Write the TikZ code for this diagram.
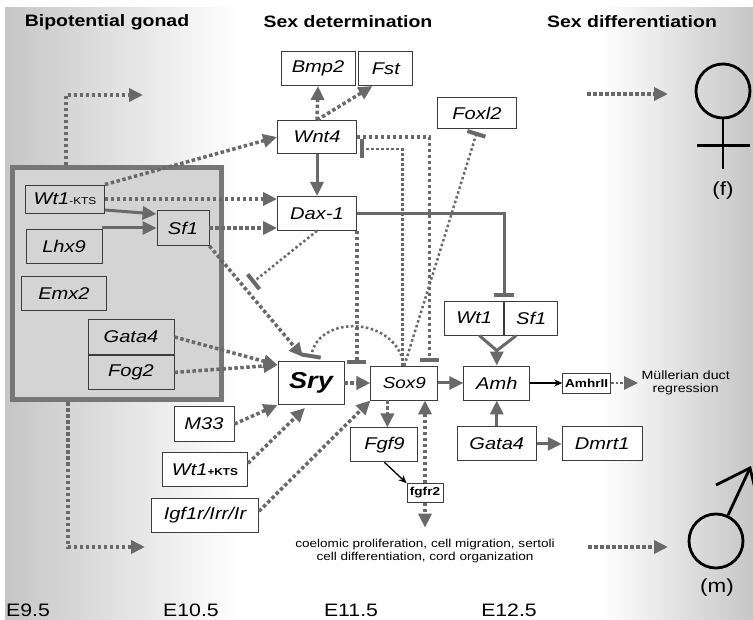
\documentclass[tikz,border=0pt]{standalone}
\usepackage{fontspec}
\setmainfont{Liberation Sans}[FakeStretch=1.18]
\usepackage{tikz}
\usetikzlibrary{arrows.meta, positioning, calc}
\definecolor{linegray}{RGB}{105,105,105}
\definecolor{boxline}{RGB}{60,60,60}
\definecolor{gonadfill}{RGB}{212,212,212}
\definecolor{gonadline}{RGB}{118,118,118}
\definecolor{bggray}{RGB}{198,198,198}
\tikzstyle{gene} = [rectangle, draw=boxline, line width=0.9pt, fill=white, minimum height=34pt, inner sep=2pt, font=\itshape\fontsize{17}{17}\selectfont]
\tikzstyle{ingene} = [gene, fill=gonadfill]
\tikzstyle{small} = [rectangle, draw=boxline, line width=0.8pt, fill=white, inner sep=1.5pt, font=\bfseries\fontsize{11.5}{12}\selectfont]
\tikzstyle{stage} = [font=\bfseries\fontsize{16.5}{18}\selectfont]
\tikzstyle{day} = [font=\fontsize{18}{18}\selectfont]
\tikzstyle{note} = [align=center, font=\fontsize{11.5}{13}\selectfont]
\tikzstyle{act} = [draw=linegray, line width=3.5pt, dash pattern=on 3.5pt off 2.5pt, -{Triangle[length=14pt,width=13pt]}]
\tikzstyle{solidact} = [draw=linegray, line width=3pt, -{Triangle[length=14pt,width=13pt]}]
\tikzstyle{blackact} = [draw=black, line width=1.3pt, -{Stealth[length=8pt,width=7pt]}]
\tikzstyle{inh} = [draw=linegray, line width=2.5pt, dash pattern=on 2.5pt off 2.5pt, -{Bar[width=19pt,line width=4pt]}]
\tikzstyle{thickinh} = [inh, line width=3.5pt, dash pattern=on 3.5pt off 2.5pt]
\tikzstyle{solidinh} = [draw=linegray, line width=3pt, -{Bar[width=20pt,line width=4pt]}]
\tikzstyle{sexsym} = [circle, draw=black, line width=2.8pt, minimum size=54pt, inner sep=0pt]

\begin{document}
\begin{tikzpicture}[x=1pt, y=1pt]
        \useasboundingbox (0,0) rectangle (753,-620);
        % background
        \fill[white] (0,0) rectangle (753,-620);
        \shade[left color=bggray, right color=white] (5,-8) rectangle (240,-620);
        \shade[left color=white, right color=bggray] (600,-8) rectangle (753,-620);

        % Stage titles
        \node[stage] (gonadtitle) at (107,-22) {Bipotential gonad};
        \node[stage] (dettitle) at (348,-22) {Sex determination};
        \node[stage] (difftitle) at (632,-22) {Sex differentiation};

        % Bipotential gonad box
        \node[draw=gonadline, line width=5pt, fill=gonadfill, minimum width=209pt, minimum height=232pt] (gonad) at (116.5,-284) {};
        \node[ingene, minimum width=79pt, minimum height=28pt] (wt1k) at (65,-199) {Wt1{\upshape\fontsize{10}{10}\selectfont -KTS}};
        \node[ingene, minimum width=76pt, below=16pt of wt1k, xshift=-1pt] (lhx9) {Lhx9};
        \node[ingene, minimum width=85pt, below=12pt of lhx9] (emx2) {Emx2};
        \node[ingene, minimum width=52pt, minimum height=35pt] (sf1) at (183,-228) {Sf1};
        \node[ingene, minimum width=86pt, minimum height=35pt] (gata4a) at (131,-337) {Gata4};
        \node[ingene, minimum width=86pt, below=0pt of gata4a] (fog2) {Fog2};

        % Sex determination
        \node[gene, minimum width=79pt, minimum height=33pt] (wnt4) at (317,-137) {Wnt4};
        \node[gene, minimum width=74pt, above=34pt of wnt4, xshift=1pt] (bmp2) {Bmp2};
        \node[gene, minimum width=54pt, right=3pt of bmp2] (fst) {Fst};
        \node[gene, minimum width=79pt, below=42pt of wnt4] (dax) {Dax-1};
        \node[gene, minimum width=79pt, minimum height=31pt] (foxl2) at (477,-113) {Foxl2};
        \node[gene, minimum width=66pt, minimum height=43pt, font=\bfseries\itshape\fontsize{23}{23}\selectfont] (sry) at (311,-383) {Sry};
        \node[gene, minimum width=67pt, right=26pt of sry, font=\itshape\fontsize{16}{16}\selectfont] (sox9) {Sox9};
        \node[gene, minimum width=60pt, minimum height=35pt] (m33) at (204,-424) {M33};
        \node[gene, minimum width=85pt, below=10pt of m33, xshift=1pt] (wt1p) {Wt1{\upshape\bfseries\fontsize{10}{10}\selectfont +KTS}};
        \node[gene, minimum width=107pt, below=11pt of wt1p] (igf) {Igf1r/Irr/Ir};
        \node[gene, minimum width=67pt, below=27pt of sox9, xshift=-20pt] (fgf9) {Fgf9};
        \node[small, minimum width=36pt, minimum height=19pt] (fgfr2) at (425,-493) {fgfr2};
        \node[note] (coel) at (425,-551) {coelomic proliferation, cell migration, sertoli\\cell differentiation, cord organization};

        % Sex differentiation
        \node[gene, minimum width=66pt, right=25pt of sox9] (amh) {Amh};
        \node[gene, minimum width=59pt, above=30pt of amh, xshift=-22.5pt] (wt1b) {Wt1};
        \node[gene, minimum width=53pt, right=0pt of wt1b] (sf1b) {Sf1};
        \node[small, minimum width=48pt, minimum height=20pt, right=32pt of amh] (amhr) {AmhrII};
        \node[note, font=\fontsize{12}{13.5}\selectfont, right=27pt of amhr] (mull) {Müllerian duct\\regression};
        \node[gene, minimum width=79pt, below=26pt of amh] (gata4b) {Gata4};
        \node[gene, minimum width=80pt, right=25pt of gata4b] (dmrt1) {Dmrt1};

        % Days
        \node[day] (e95) at (28,-610) {E9.5};
        \node[day] (e105) at (191,-610) {E10.5};
        \node[day] (e115) at (351,-610) {E11.5};
        \node[day] (e125) at (509,-610) {E12.5};

        % Female and male
        \node[sexsym] (female) at (723,-91) {};
        \draw[black, line width=2.8pt] (female.south) -- ++(0,-50);
        \draw[black, line width=2.8pt] (female.south) ++(-26,-26) -- ++(53,0);
        \node[font=\fontsize{19}{19}\selectfont] (flabel) at (723,-191) {(f)};
        \node[sexsym] (male) at (716,-541) {};
        \coordinate (mtip) at (750,-468);
        \draw[black, line width=2.8pt] (male.65) -- (mtip);
        \draw[black, line width=2.8pt, line join=miter] (716,-485) -- (mtip) -- (759,-505);
        \node[font=\fontsize{19}{19}\selectfont] (mlabel) at (717,-588) {(m)};

        % free ends
        \coordinate (fem0) at (143,-95);
        \coordinate (mal0) at (145,-547);
        \coordinate (femA) at (587,-94);
        \coordinate (femB) at (668,-94);
        \coordinate (malA) at (588,-547);
        \coordinate (malB) at (668,-547);
        \coordinate (daxblock) at (252,-283);

        % Gonad outputs
        \draw[act] ([xshift=-50.5pt]gonad.north) |- (fem0);
        \draw[act] ([xshift=-48.5pt]gonad.south) |- (mal0);
        \draw[act] (femA) -- (femB);
        \draw[act] (malA) -- (malB);

        % Into Wnt4, Dax-1 and Sf1
        \draw[act] (wt1k.north east) -- (wnt4.west);
        \draw[act] (wt1k.east) -- (wt1k.east -| dax.west);
        \draw[solidact] ([yshift=-11pt]wt1k.east) -- ([yshift=14pt]sf1.west);
        \draw[solidact] (sf1.west -| lhx9.east) -- (sf1.west);
        \draw[act] (sf1.east) -- (sf1.east -| dax.west);
        \draw[act] (sf1.south east) -- ([xshift=-8pt,yshift=4pt]sry.north);
        \draw[inh] (dax.south) -- (daxblock);
        \draw[solidact] (wnt4.south) -- (dax.north);
        \draw[act] (wnt4.north) -- (bmp2.south);
        \draw[act] (wnt4.north) -- ([xshift=14pt]fst.south west);

        % Inhibitions round Sox9
        \draw[thickinh] (wnt4.east) -| ([xshift=25pt,yshift=4pt]sox9.north);
        \draw[inh] ([xshift=-2pt]sox9.north) |- ([xshift=3pt,yshift=-12pt]wnt4.east);
        \draw[thickinh] (dax.south east) -- ([yshift=2pt]dax.south east |- sox9.north);
        \draw[solidinh] (dax.east) -| ([yshift=4pt]wt1b.north east);
        \draw[inh] (sox9.north) -- ([yshift=-3pt]foxl2.south);
        \draw[inh] (sox9.north) .. controls (395,-315) and (318,-315) .. ([yshift=3pt]sry.north);

        % Into Sry and Sox9
        \draw[act] (gata4a.east) -- ([yshift=18pt]sry.west);
        \draw[act] (fog2.east) -- ([yshift=18pt]sry.west);
        \draw[act] (m33.east) -- (sry.south west);
        \draw[act] ([yshift=6pt]wt1p.east) -- ([xshift=-6pt,yshift=-3pt]sry.south);
        \draw[act] ([yshift=4pt]igf.east) -- (sox9.south west);
        \draw[act] (sry.east) -- (sox9.west);

        % Amh
        \draw[solidact] (sox9.east) -- (amh.west);
        \coordinate[above=15pt of amh.north] (wsjoin);
        \draw[linegray, line width=3pt] ([xshift=5pt]wt1b.south) -- (wsjoin) -- ([xshift=-15pt]sf1b.south);
        \draw[solidact] (wsjoin) -- (amh.north);
        \draw[blackact] (amh.east) -- (amhr.west);
        \draw[act, line width=2.5pt, dash pattern=on 2.5pt off 2pt] (amhr.east) -- (mull.west);
        \draw[solidact] (gata4b.north) -- (amh.south);
        \draw[solidact] (gata4b.east) -- (dmrt1.west);

        % Fgf9
        \draw[act] ([xshift=-17pt]sox9.south) -- ([xshift=-17pt]sox9.south |- fgf9.north);
        \draw[blackact] (fgf9.south) -- (fgfr2.north west);
        \draw[act] (fgfr2.north) -- (fgfr2.north |- sox9.south);
        \draw[act] (fgfr2.south) -- ([yshift=8pt]fgfr2.south |- coel.north);
\end{tikzpicture}
\end{document}
